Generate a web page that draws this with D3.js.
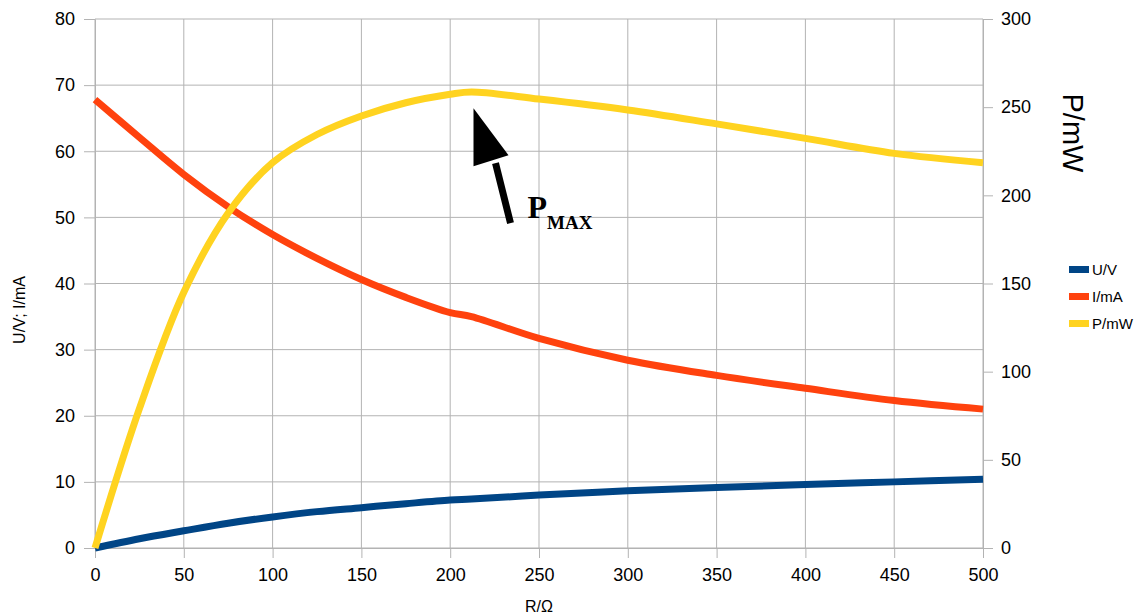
<!DOCTYPE html>
<html>
<head>
<meta charset="utf-8">
<style>
    body { margin: 0; background: #fff; }
    svg { display: block; font-family: 'Liberation Sans', Arial, sans-serif; }
    .axis .domain { stroke: #b3b3b3; }
    .axis .tick line { stroke: #b3b3b3; }
    .axis .tick text { font-size: 18px; fill: #000; }
    .grid line { stroke: #b3b3b3; stroke-width: 1; }
    .title { font-size: 16px; fill: #000; }
    .legend { font-size: 15px; fill: #000; }
</style>
</head>
<body>
<svg width="1146" height="616"></svg>
<script src="https://d3js.org/d3.v7.min.js"></script>
<script>
// resistance values (Ohm)
let resist = [0, 25, 50, 75, 100, 125, 150, 175, 200, 212, 250, 300, 350, 400, 450, 500]
// voltage U/V
let voltage = [0, 1.4, 2.6, 3.75, 4.7, 5.5, 6.1, 6.7, 7.25, 7.4, 8.0, 8.65, 9.15, 9.6, 10.0, 10.4]
// current I/mA
let current = [67.8, 62.1, 56.5, 51.6, 47.4, 43.8, 40.6, 37.9, 35.6, 35.0, 31.7, 28.4, 26.1, 24.15, 22.3, 21.0]
// power P/mW (right axis)
let power = [0, 79, 145, 190, 218.5, 234.5, 245, 252.5, 257.3, 258.6, 254.6, 248.4, 240.5, 232.3, 223.8, 218.5]

let xTicks = [0, 50, 100, 150, 200, 250, 300, 350, 400, 450, 500]
let leftTicks = [0, 10, 20, 30, 40, 50, 60, 70, 80]
let rightTicks = [0, 50, 100, 150, 200, 250, 300]

let seriesNames = ["U/V", "I/mA", "P/mW"]
let seriesColors = ["#004586", "#ff420e", "#ffd320"]

// annotation: peak power point
let peakR = 212
let peakP = 250

let width = 1146
let height = 616
let margin = { top: 19, right: 163, bottom: 68, left: 95 }

let svg = d3.select("svg")

let x = d3.scaleLinear()
    .domain([0, 500])
    .range([margin.left, width - margin.right])

let yL = d3.scaleLinear()
    .domain([0, 80])
    .range([height - margin.bottom, margin.top])

let yR = d3.scaleLinear()
    .domain([0, 300])
    .range([height - margin.bottom, margin.top])

// grid
let grid = svg.append("g").attr("class", "grid")
grid.selectAll(".v")
    .data(xTicks)
    .join("line")
    .attr("x1", d => x(d)).attr("x2", d => x(d))
    .attr("y1", margin.top).attr("y2", height - margin.bottom)
grid.selectAll(".h")
    .data(leftTicks)
    .join("line")
    .attr("x1", margin.left).attr("x2", width - margin.right)
    .attr("y1", d => yL(d)).attr("y2", d => yL(d))

// axes
svg.append("g")
    .attr("class", "axis")
    .attr("transform", `translate(${margin.left},0)`)
    .call(d3.axisLeft(yL).tickValues(leftTicks).tickSize(11).tickSizeOuter(0).tickPadding(9))

svg.append("g")
    .attr("class", "axis")
    .attr("transform", `translate(${width - margin.right},0)`)
    .call(d3.axisRight(yR).tickValues(rightTicks).tickSize(10).tickSizeOuter(0).tickPadding(8))

svg.append("g")
    .attr("class", "axis")
    .attr("transform", `translate(0,${height - margin.bottom})`)
    .call(d3.axisBottom(x).tickValues(xTicks).tickSize(10).tickSizeOuter(0).tickPadding(10))

// lines
let lineL = d3.line()
    .x((d, i) => x(resist[i]))
    .y(d => yL(d))
    .curve(d3.curveCatmullRom.alpha(0.5))

let lineR = d3.line()
    .x((d, i) => x(resist[i]))
    .y(d => yR(d))
    .curve(d3.curveCatmullRom.alpha(0.5))

svg.append("path")
    .attr("d", lineL(voltage))
    .attr("fill", "none")
    .attr("stroke", seriesColors[0])
    .attr("stroke-width", 7)

svg.append("path")
    .attr("d", lineL(current))
    .attr("fill", "none")
    .attr("stroke", seriesColors[1])
    .attr("stroke-width", 7)

svg.append("path")
    .attr("d", lineR(power))
    .attr("fill", "none")
    .attr("stroke", seriesColors[2])
    .attr("stroke-width", 7)

// axis titles
svg.append("text")
    .attr("class", "title")
    .attr("x", (margin.left + width - margin.right) / 2)
    .attr("y", 612)
    .attr("text-anchor", "middle")
    .text("R/Ω")

svg.append("text")
    .attr("class", "title")
    .attr("transform", "translate(25,310) rotate(-90)")
    .attr("text-anchor", "middle")
    .text("U/V; I/mA")

svg.append("text")
    .attr("transform", "translate(1063,133) rotate(90)")
    .attr("text-anchor", "middle")
    .style("font-size", "29px")
    .text("P/mW")

// legend
let legend = svg.append("g").attr("transform", "translate(1069,270)")
seriesNames.forEach((name, i) => {
    legend.append("rect")
        .attr("x", 0)
        .attr("y", i * 27 - 4)
        .attr("width", 20)
        .attr("height", 7)
        .attr("fill", seriesColors[i])
    legend.append("text")
        .attr("class", "legend")
        .attr("x", 23)
        .attr("y", i * 27 + 5)
        .text(name)
})

// arrow pointing to maximum power
let tipX = x(peakR) + 2
let tipY = yR(peakP) + 1
let arrow = svg.append("g")
arrow.append("line")
    .attr("x1", tipX + 37).attr("y1", tipY + 115)
    .attr("x2", tipX + 22).attr("y2", tipY + 55)
    .attr("stroke", "#000")
    .attr("stroke-width", 7)
arrow.append("path")
    .attr("d", `M${tipX},${tipY} L${tipX + 35},${tipY + 47} L${tipX},${tipY + 58} Z`)
    .attr("fill", "#000")

let pmax = svg.append("text")
    .attr("x", tipX + 54)
    .attr("y", tipY + 110)
    .style("font-family", "'Liberation Serif', 'Times New Roman', serif")
    .style("font-weight", "bold")
    .style("font-size", "32px")
pmax.append("tspan").text("P")
pmax.append("tspan")
    .attr("dy", 11)
    .style("font-size", "19px")
    .text("MAX")
</script>
</body>
</html>
